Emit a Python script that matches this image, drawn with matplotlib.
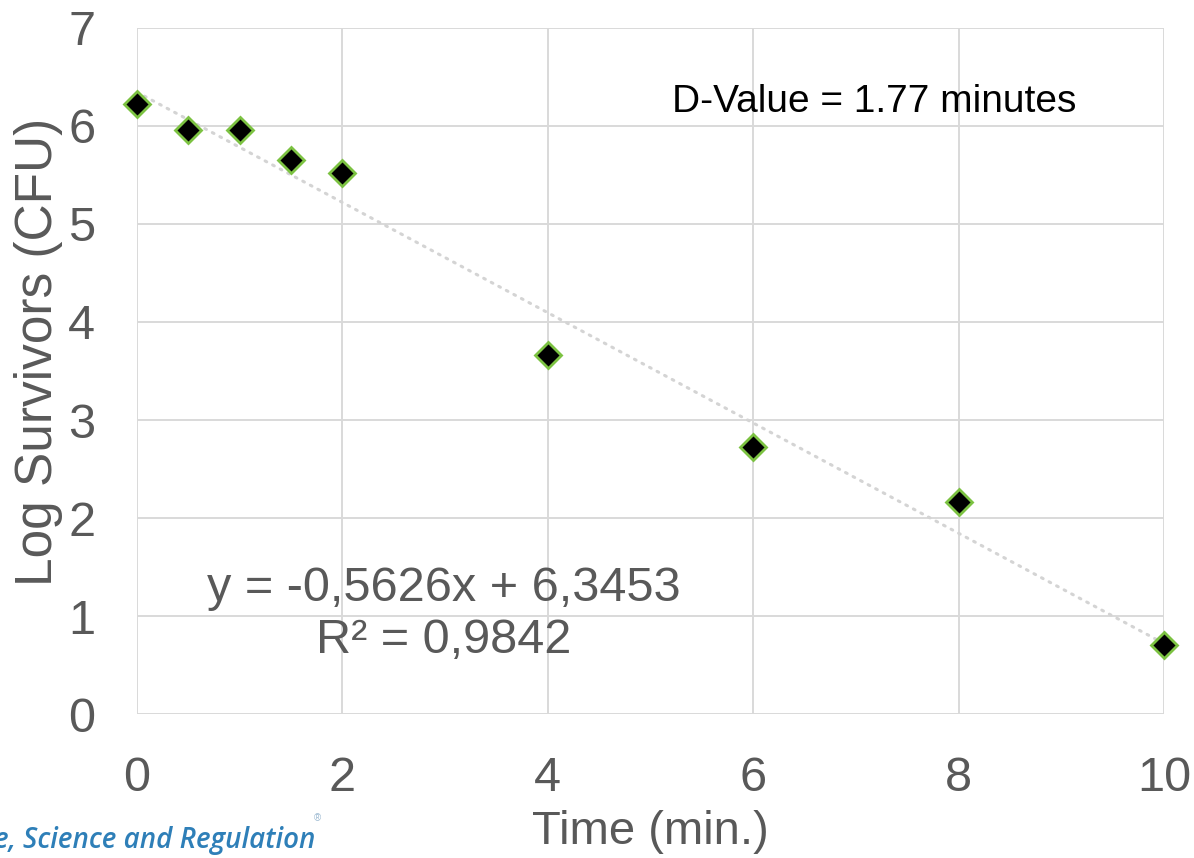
import matplotlib as mpl
from matplotlib import pyplot as plt
import numpy as np

mpl.rcParams['font.family'] = ['Liberation Sans', 'DejaVu Sans']

# survivor counts over time
time_min = [0, 0.5, 1, 1.5, 2, 4, 6, 8, 10]
log_survivors = [6.22, 5.96, 5.96, 5.65, 5.52, 3.66, 2.72, 2.16, 0.70]
x_ticks = [0, 2, 4, 6, 8, 10]
y_ticks = [0, 1, 2, 3, 4, 5, 6, 7]

# linear fit shown on the chart
slope = -0.5626
intercept = 6.3453
r_squared = 0.9842
d_value = 1.77

grey = '#595959'
grid_col = '#d9d9d9'

fig = plt.figure(figsize=(11.94, 8.58), dpi=100)
ax = fig.add_axes([0.1147, 0.1678, 0.8602, 0.7996])

fit_x = np.array([time_min[0], time_min[-1]])
ax.plot(fit_x, slope * fit_x + intercept, color='#d4d4d4', lw=2.2,
        ls=(0, (0.6, 2.2)), dash_capstyle='round', zorder=2)
ax.plot(time_min, log_survivors, ls='none', marker='D', ms=13,
        mfc='black', mec='#7cc242', mew=2, zorder=3, clip_on=False)

ax.set_xlim(0, 10)
ax.set_ylim(0, 7)
ax.set_xticks(x_ticks)
ax.set_yticks(y_ticks)
ax.grid(True, color=grid_col, lw=1.4)
ax.set_axisbelow(True)
for s in ax.spines.values():
    s.set_visible(False)
ax.tick_params(length=0, labelsize=35, labelcolor=grey)
ax.tick_params(axis='x', pad=30)
ax.tick_params(axis='y', pad=30)

fig.text(0.545, 0.030, 'Time (min.)', fontsize=34, color=grey,
         ha='center', va='center')
fig.text(0.032, 0.59, 'Log Survivors (CFU)', fontsize=37, color=grey,
         ha='center', va='center', rotation=90)

ax.text(7.18, 6.24, 'D-Value = %.2f minutes' % d_value, fontsize=28,
        color='black', ha='center', va='center')
eq = 'y = %.4fx + %.4f' % (slope, intercept)
ax.text(2.99, 1.28, eq.replace('.', ','), fontsize=35, color=grey,
        ha='center', va='center')
ax.text(2.99, 0.75, ('R² = %.4f' % r_squared).replace('.', ','),
        fontsize=35, color=grey, ha='center', va='center')

fig.text(-0.005, 0.020, 'e, Science and Regulation', fontsize=20,
         color='#2e7fb8', style='italic', weight='semibold',
         family=['Open Sans', 'DejaVu Sans'], ha='left', va='center')
fig.text(0.263, 0.046, '®', fontsize=7, color='#9ab8d0',
         ha='left', va='center')

fig.savefig('out.png', dpi=100)
